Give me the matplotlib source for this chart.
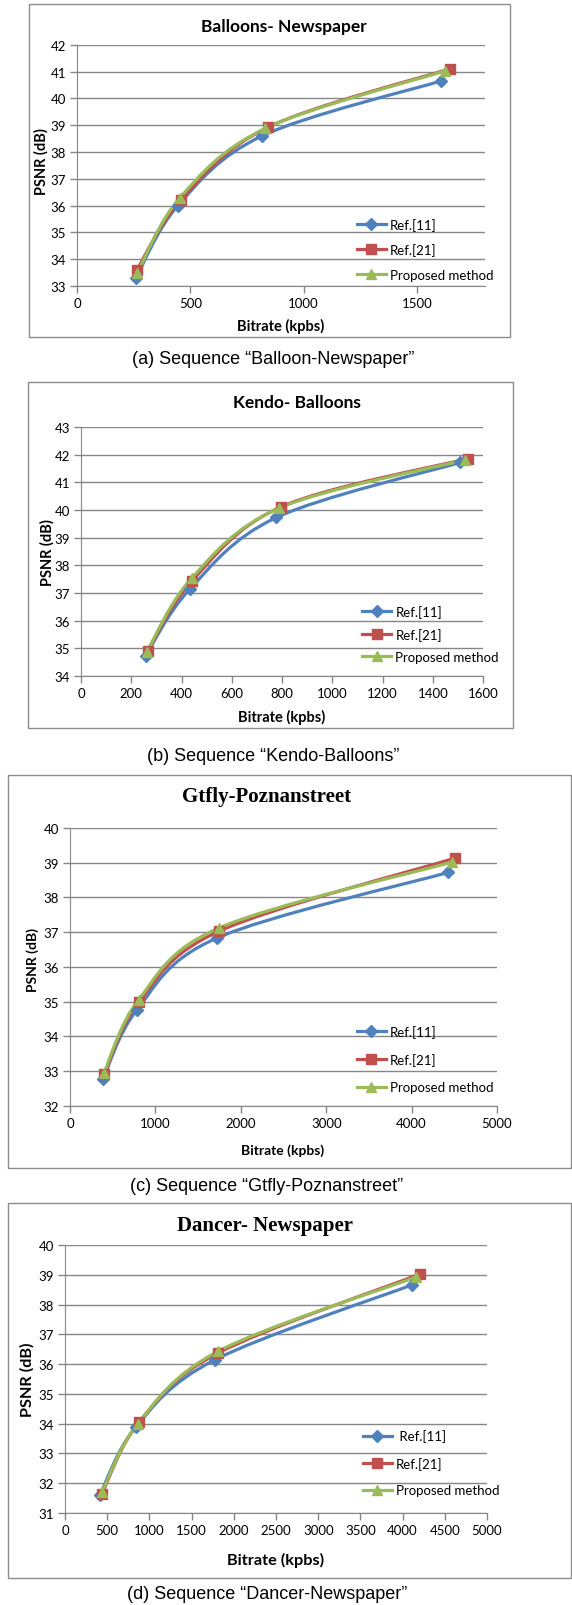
"""Rate-distortion curves (PSNR vs bitrate) for four test sequences."""

import matplotlib
matplotlib.use("Agg")
import matplotlib.pyplot as plt   # noqa: E402
from matplotlib.lines import Line2D   # noqa: E402
from matplotlib.patches import PathPatch, Rectangle   # noqa: E402
from matplotlib.path import Path   # noqa: E402

W, H = 572, 1606

SERIES = ["Ref.[11]", "Ref.[21]", "Proposed method"]
COLORS = {"Ref.[11]": "#4F81BD", "Ref.[21]": "#C0504D", "Proposed method": "#9BBB59"}
MARKERS = {"Ref.[11]": ("D", 6.0), "Ref.[21]": ("s", 7.0), "Proposed method": ("^", 7.5)}

# (a) Balloons-Newspaper
A_X_REF11 = [260, 445, 817, 1607]
A_Y_REF11 = [33.30, 36.00, 38.60, 40.65]
A_X_REF21 = [263, 458, 842, 1644]
A_Y_REF21 = [33.58, 36.20, 38.92, 41.10]
A_X_PROP = [266, 455, 831, 1622]
A_Y_PROP = [33.50, 36.30, 38.88, 41.02]

# (b) Kendo-Balloons
B_X_REF11 = [257, 433, 778, 1510]
B_Y_REF11 = [34.73, 37.14, 39.73, 41.72]
B_X_REF21 = [265, 443, 798, 1540]
B_Y_REF21 = [34.92, 37.45, 40.12, 41.86]
B_X_PROP = [262, 440, 789, 1527]
B_Y_PROP = [34.88, 37.53, 40.07, 41.81]

# (c) Gtfly-Poznanstreet
C_X_REF11 = [386, 785, 1717, 4426]
C_Y_REF11 = [32.77, 34.77, 36.83, 38.72]
C_X_REF21 = [398, 804, 1745, 4504]
C_Y_REF21 = [32.91, 34.98, 37.03, 39.13]
C_X_PROP = [398, 804, 1741, 4473]
C_Y_PROP = [32.96, 35.06, 37.12, 39.02]

# (d) Dancer-Newspaper
D_X_REF11 = [411, 837, 1773, 4111]
D_Y_REF11 = [31.59, 33.88, 36.14, 38.66]
D_X_REF21 = [438, 877, 1813, 4210]
D_Y_REF21 = [31.65, 34.05, 36.37, 39.03]
D_X_PROP = [438, 865, 1813, 4155]
D_Y_PROP = [31.70, 34.00, 36.43, 38.92]

GRID = "#868686"
FRAME = "#8C8C8C"
SANS = ["Lato", "DejaVu Sans"]
SERIF = ["Liberation Serif", "DejaVu Serif"]
CAPTION = ["Liberation Sans", "DejaVu Sans"]


def fx(px):
    return px / W


def fy(py):
    return 1 - py / H


def smooth_path(xs, ys):
    """Excel-like smoothed line: Catmull-Rom turned into cubic Beziers."""
    pts = list(zip(xs, ys))
    ext = [pts[0]] + pts + [pts[-1]]
    verts, codes = [pts[0]], [Path.MOVETO]
    for i in range(1, len(ext) - 2):
        p0, p1, p2, p3 = ext[i - 1], ext[i], ext[i + 1], ext[i + 2]
        c1 = (p1[0] + (p2[0] - p0[0]) / 6, p1[1] + (p2[1] - p0[1]) / 6)
        c2 = (p2[0] - (p3[0] - p1[0]) / 6, p2[1] - (p3[1] - p1[1]) / 6)
        verts += [c1, c2, p2]
        codes += [Path.CURVE4] * 3
    return Path(verts, codes)


def panel(fig, frame, plot, data, xlim, xstep, ylim, title, title_font,
          title_size, title_xy, ylabel_xy, xlabel_xy, label_size,
          legend_anchor, legend_space, caption, caption_xy, labels=SERIES):
    l, t, r, b = frame
    fig.patches.append(Rectangle((fx(l), fy(b)), fx(r - l), (b - t) / H,
                                 transform=fig.transFigure, fill=False,
                                 ec=FRAME, lw=1.0))
    pl, pt, pr, pb = plot
    ax = fig.add_axes([fx(pl), fy(pb), fx(pr - pl), (pb - pt) / H])
    ax.set_xlim(*xlim); ax.set_ylim(*ylim)
    ax.set_xticks(range(xlim[0], xlim[1] + 1, xstep) if xlim[1] % xstep == 0
                  else range(xlim[0], xlim[1], xstep))
    ax.set_yticks(range(ylim[0], ylim[1] + 1))
    ax.yaxis.grid(True, color=GRID, lw=1.0)
    ax.set_axisbelow(True)
    for s in ("top", "right"):
        ax.spines[s].set_visible(False)
    for s in ("left", "bottom"):
        ax.spines[s].set_color(GRID)
    ax.tick_params(colors=GRID, length=5, width=1.0, labelcolor="black",
                   labelsize=9.5, pad=3)
    for lab in ax.get_xticklabels() + ax.get_yticklabels():
        lab.set_family(SANS)

    handles = []
    for name, label in zip(SERIES, labels):
        xs, ys = data[name]
        c = COLORS[name]
        m, ms = MARKERS[name]
        ax.add_patch(PathPatch(smooth_path(xs, ys), fill=False, ec=c, lw=2.3,
                               capstyle="round", joinstyle="round",
                               clip_on=False))
        ax.plot(xs, ys, ls="none", marker=m, ms=ms, color=c, clip_on=False)
        handles.append(Line2D([], [], color=c, lw=2.3, marker=m, ms=ms))
    ax.legend(handles, labels, loc="center left", bbox_to_anchor=legend_anchor,
              frameon=False, borderpad=0, borderaxespad=0, handlelength=2.2,
              handletextpad=0.3, labelspacing=legend_space,
              prop={"family": SANS, "size": 9.5})

    fig.text(fx(title_xy[0]), fy(title_xy[1]), title, ha="center",
             va="center", fontsize=title_size, fontweight="bold",
             family=title_font)
    fig.text(fx(ylabel_xy[0]), fy(ylabel_xy[1]), "PSNR (dB)", ha="center",
             va="center", rotation=90, fontsize=label_size,
             fontweight="bold", family=SANS)
    fig.text(fx(xlabel_xy[0]), fy(xlabel_xy[1]), "Bitrate (kpbs)", ha="center",
             va="center", fontsize=label_size, fontweight="bold", family=SANS)
    fig.text(fx(caption_xy[0]), fy(caption_xy[1]), caption, ha="center",
             va="center", fontsize=13, family=CAPTION)
    return ax


fig = plt.figure(figsize=(W / 100, H / 100), dpi=100)

panel(fig, (29, 5, 510, 338), (77, 45.7, 485, 287),
      {"Ref.[11]": (A_X_REF11, A_Y_REF11), "Ref.[21]": (A_X_REF21, A_Y_REF21),
       "Proposed method": (A_X_PROP, A_Y_PROP)},
      (0, 1800), 500, (33, 42), "Balloons- Newspaper", SANS, 12.5,
      (284, 27), (41, 162), (281, 326), 10.5, (0.686, 0.153), 0.95,
      "(a) Sequence \u201cBalloon-Newspaper\u201d", (273, 359))

panel(fig, (28, 383, 513, 729), (81, 428, 483, 677),
      {"Ref.[11]": (B_X_REF11, B_Y_REF11), "Ref.[21]": (B_X_REF21, B_Y_REF21),
       "Proposed method": (B_X_PROP, B_Y_PROP)},
      (0, 1600), 200, (34, 43), "Kendo- Balloons", SANS, 12.5,
      (297, 403), (47, 553), (282, 717), 10.5, (0.70, 0.169), 0.75,
      "(b) Sequence \u201cKendo-Balloons\u201d", (273, 757))

panel(fig, (8, 776, 571, 1169), (70, 829, 497, 1107),
      {"Ref.[11]": (C_X_REF11, C_Y_REF11), "Ref.[21]": (C_X_REF21, C_Y_REF21),
       "Proposed method": (C_X_PROP, C_Y_PROP)},
      (0, 5000), 1000, (32, 40), "Gtfly-Poznanstreet", SERIF, 15,
      (267, 797), (33, 960), (283, 1151), 10, (0.672, 0.169), 1.15,
      "(c) Sequence \u201cGtfly-Poznanstreet\u201d", (267, 1187))

panel(fig, (8, 1204, 571, 1579), (65, 1246, 487, 1514),
      {"Ref.[11]": (D_X_REF11, D_Y_REF11), "Ref.[21]": (D_X_REF21, D_Y_REF21),
       "Proposed method": (D_X_PROP, D_Y_PROP)},
      (0, 5000), 500, (31, 40), "Dancer- Newspaper", SERIF, 15,
      (265, 1226), (27, 1380), (276, 1560), 11.7, (0.706, 0.187), 1.1,
      "(d) Sequence \u201cDancer-Newspaper\u201d", (267, 1595),
      labels=[" Ref.[11]", "Ref.[21]", "Proposed method"])

fig.savefig("out.png", dpi=100)
